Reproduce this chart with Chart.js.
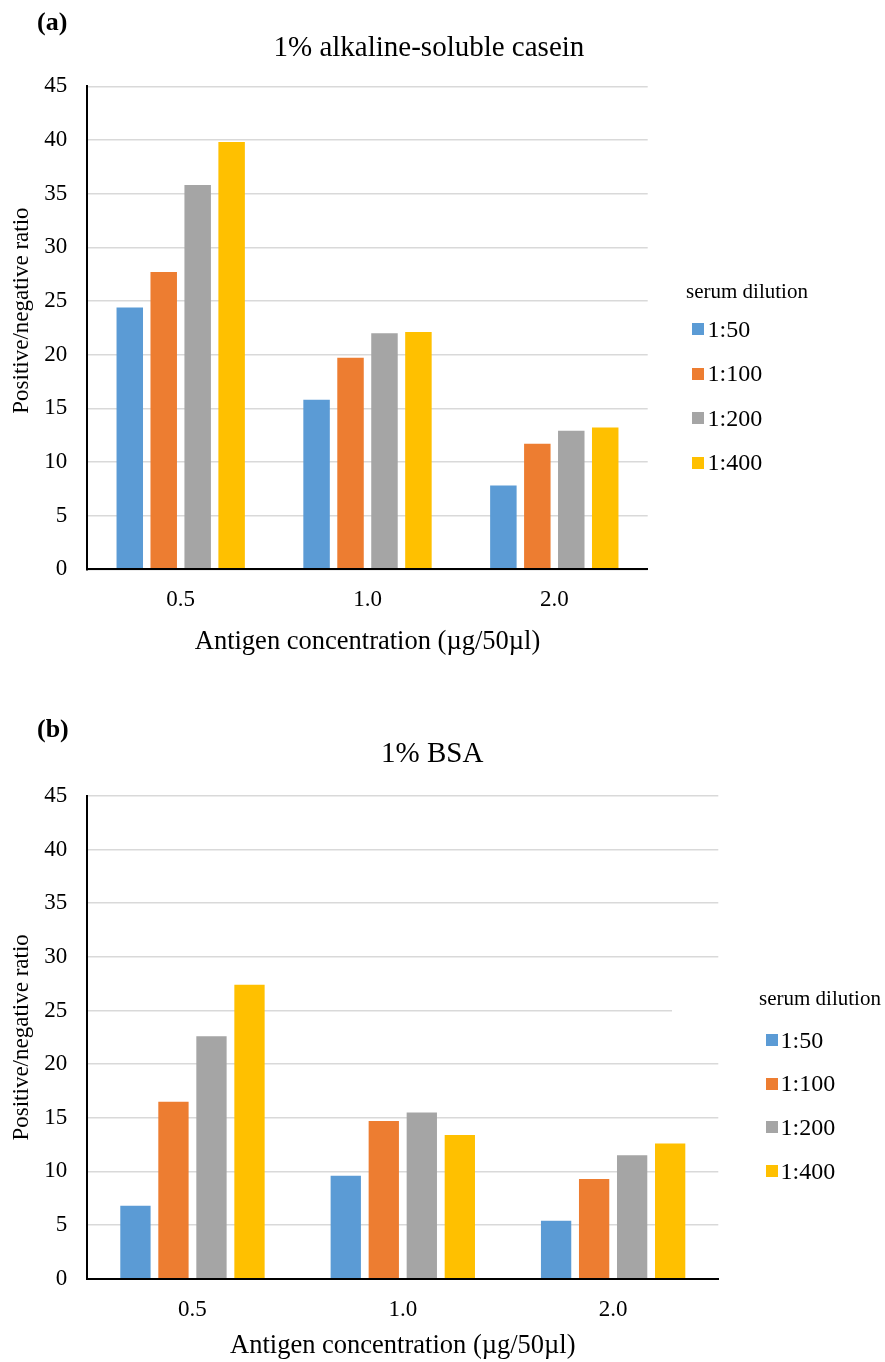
<!DOCTYPE html>
<html>
<head>
<meta charset="utf-8">
<script src="https://cdn.jsdelivr.net/npm/chart.js@4.4.0/dist/chart.umd.min.js"></script>
<style>
  body { margin: 0; background: #fff; }
  #page { position: relative; width: 885px; height: 1362px; overflow: hidden; background: #fff;
          font-family: 'Liberation Serif', 'Times New Roman', serif; color: #000; }
  canvas { position: absolute; left: 0; }
  .txt { position: absolute; white-space: nowrap; }
  .sw { position: absolute; width: 12px; height: 12px; }
</style>
</head>
<body>
<div id="page">
  <canvas id="chartA" width="885" height="680" style="top:0px"></canvas>
  <canvas id="chartB" width="885" height="672" style="top:690px"></canvas>
</div>
<script>
// categories (antigen concentration, ug/50ul) and series (serum dilution)
const concentrations = ['0.5', '1.0', '2.0'];
const dilutions = ['1:50', '1:100', '1:200', '1:400'];
const colors = ['#5B9BD5', '#ED7D31', '#A5A5A5', '#FFC000'];
const yTickValues = [0, 5, 10, 15, 20, 25, 30, 35, 40, 45];

// (a) 1% alkaline-soluble casein
const casein50  = [24.4, 15.8, 7.8];
const casein100 = [27.7, 19.7, 11.7];
const casein200 = [35.8, 22.0, 12.9];
const casein400 = [39.8, 22.1, 13.2];

// (b) 1% BSA
const bsa50  = [6.8, 9.6, 5.4];
const bsa100 = [16.5, 14.7, 9.3];
const bsa200 = [22.6, 15.5, 11.5];
const bsa400 = [27.4, 13.4, 12.6];

Chart.defaults.font.family = "'Liberation Serif', 'Times New Roman', serif";
Chart.defaults.color = '#000';

const TICK_SIZE = 23, XTITLE_SIZE = 26.5, YTITLE_SIZE = 23;
const page = document.getElementById('page');

function addText(text, left, cy, size, extra) {
  const d = document.createElement('div');
  d.className = 'txt';
  d.textContent = text;
  const lh = Math.round(size * 1.2);
  d.style.left = left + 'px';
  d.style.top = (cy - lh / 2) + 'px';
  d.style.fontSize = size + 'px';
  d.style.lineHeight = lh + 'px';
  if (extra) Object.assign(d.style, extra);
  page.appendChild(d);
  return d;
}

function addCentered(text, cx, cy, size) {
  const d = addText(text, 0, cy, size);
  d.style.left = (cx - d.offsetWidth / 2) + 'px';
}

function buildLegend(chart, g) {
  addText('serum dilution', g.titleX, g.titleY, 21);
  chart.data.datasets.forEach((ds, i) => {
    const cy = g.firstY + i * g.step;
    const sw = document.createElement('div');
    sw.className = 'sw';
    sw.style.left = g.boxX + 'px';
    sw.style.top = (cy - 6) + 'px';
    sw.style.background = ds.backgroundColor;
    page.appendChild(sw);
    addText(ds.label, g.textX, cy, 24);
  });
}

// the legend frame in (b) hides the right end of one gridline
const gridCut = {
  id: 'gridCut',
  beforeDatasetsDraw(chart, args, opts) {
    if (!opts.value) return;
    const y = chart.scales.y.getPixelForValue(opts.value);
    const ctx = chart.ctx;
    ctx.save();
    ctx.fillStyle = '#fff';
    ctx.fillRect(opts.fromX, y - 3, chart.chartArea.right - opts.fromX + 2, 6);
    ctx.restore();
  }
};

function buildChart(id, series, g) {
  const datasets = dilutions.map((d, i) => ({
    label: d,
    data: series[i],
    backgroundColor: colors[i],
    borderWidth: 0,
    categoryPercentage: g.catPct,
    barPercentage: g.barPct
  }));
  const canvasBottom = g.canvasTop + g.canvasHeight;
  return new Chart(document.getElementById(id), {
    type: 'bar',
    data: { labels: concentrations, datasets: datasets },
    options: {
      responsive: false,
      animation: false,
      devicePixelRatio: 1,
      layout: { padding: { top: g.top - g.canvasTop, right: 885 - g.right, bottom: 0, left: 0 } },
      plugins: {
        legend: { display: false },
        tooltip: { enabled: false },
        gridCut: g.cut || {}
      },
      scales: {
        x: {
          grid: { display: false, drawTicks: false },
          border: { display: true, color: '#000', width: 2, z: 1 },
          ticks: { color: '#000', font: { size: TICK_SIZE }, padding: g.tickY - g.bottom - TICK_SIZE * 0.6 },
          title: {
            display: true, text: 'Antigen concentration (µg/50µl)', color: '#000',
            font: { size: XTITLE_SIZE },
            padding: { top: 0, bottom: canvasBottom - XTITLE_SIZE * 0.6 - g.titleY }
          },
          afterFit(s) { s.height = canvasBottom - g.bottom; }
        },
        y: {
          min: 0, max: 45,
          afterBuildTicks(axis) { axis.ticks = yTickValues.map(v => ({ value: v })); },
          ticks: { color: '#000', font: { size: TICK_SIZE }, padding: 20 },
          grid: { color: '#d9d9d9', lineWidth: 1.6, drawTicks: false },
          border: { color: '#000', width: 2, z: 1 },
          title: {
            display: true, text: g.yTitle, color: '#000',
            font: { size: YTITLE_SIZE }, padding: { top: 8, bottom: 0 }
          },
          afterFit(s) { s.width = g.left; }
        }
      }
    },
    plugins: [gridCut]
  });
}

const chartA = buildChart('chartA', [casein50, casein100, casein200, casein400], {
  canvasTop: 0, canvasHeight: 680,
  top: 86.3, bottom: 569.3, left: 87.3, right: 647.7,
  tickY: 600, titleY: 642, catPct: 0.727, barPct: 0.78,
  yTitle: '      Positive/negative ratio'
});
const chartB = buildChart('chartB', [bsa50, bsa100, bsa200, bsa400], {
  canvasTop: 690, canvasHeight: 672,
  top: 796, bottom: 1278.7, left: 87.3, right: 718.3,
  tickY: 1310, titleY: 1346, catPct: 0.723, barPct: 0.797,
  yTitle: 'Positive/negative ratio',
  cut: { value: 25, fromX: 672 }
});

addText('(a)', 37, 21, 26, { fontWeight: 'bold' });
addCentered('1% alkaline-soluble casein', 429, 46, 29);
addText('(b)', 37, 728, 26, { fontWeight: 'bold' });
addCentered('1% BSA', 432, 752, 29);

buildLegend(chartA, { titleX: 686, titleY: 291, boxX: 692, textX: 707.5, firstY: 329, step: 44.5 });
buildLegend(chartB, { titleX: 759, titleY: 998, boxX: 766, textX: 780.5, firstY: 1040, step: 43.7 });
</script>
</body>
</html>
